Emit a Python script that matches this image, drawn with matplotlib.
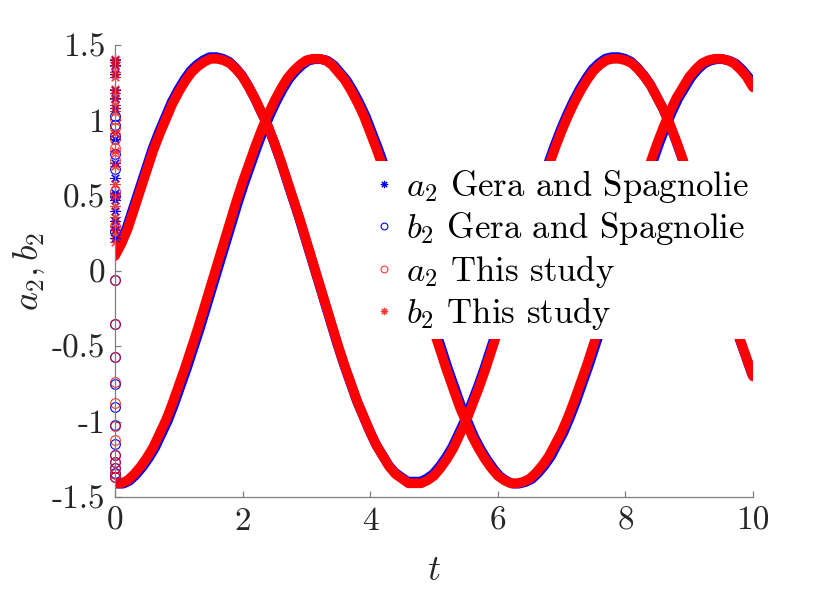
import numpy as np
import matplotlib
matplotlib.use("Agg")
import matplotlib.pyplot as plt
import matplotlib.transforms as mtransforms

plt.rcParams['font.family'] = 'serif'
plt.rcParams['font.serif'] = ['cmr10', 'DejaVu Serif']
plt.rcParams['mathtext.fontset'] = 'cm'
plt.rcParams['axes.unicode_minus'] = False

# values, t every 0.1
t = np.linspace(0, 10, 101)
a2 = [0.10, 0.18, 0.28, 0.41, 0.54, 0.67, 0.80, 0.91, 1.01, 1.11,
      1.19, 1.26, 1.32, 1.36, 1.39, 1.41, 1.41, 1.40, 1.38, 1.34,
      1.29, 1.22, 1.14, 1.05, 0.96, 0.85, 0.73, 0.60, 0.47, 0.34,
      0.20, 0.06, -0.08, -0.22, -0.36, -0.50, -0.63, -0.75, -0.87, -0.97,
      -1.07, -1.16, -1.23, -1.30, -1.35, -1.38, -1.41, -1.41, -1.41, -1.39,
      -1.36, -1.31, -1.25, -1.18, -1.09, -1.00, -0.89, -0.78, -0.66, -0.53,
      -0.40, -0.26, -0.12, 0.02, 0.16, 0.30, 0.44, 0.57, 0.70, 0.82,
      0.93, 1.03, 1.12, 1.20, 1.27, 1.33, 1.37, 1.40, 1.41, 1.41,
      1.40, 1.38, 1.34, 1.29, 1.23, 1.15, 1.07, 0.97, 0.86, 0.74,
      0.61, 0.48, 0.35, 0.21, 0.07, -0.07, -0.20, -0.33, -0.46, -0.58,
      -0.70]
b2 = [-1.41, -1.41, -1.39, -1.35, -1.30, -1.24, -1.17, -1.08, -0.99, -0.88,
      -0.76, -0.64, -0.51, -0.38, -0.24, -0.10, 0.04, 0.18, 0.32, 0.46,
      0.59, 0.71, 0.83, 0.94, 1.04, 1.13, 1.21, 1.28, 1.33, 1.37,
      1.40, 1.41, 1.41, 1.40, 1.37, 1.32, 1.27, 1.20, 1.12, 1.03,
      0.92, 0.81, 0.69, 0.57, 0.43, 0.30, 0.16, 0.02, -0.12, -0.26,
      -0.40, -0.53, -0.66, -0.78, -0.90, -1.00, -1.10, -1.18, -1.25, -1.31,
      -1.36, -1.39, -1.41, -1.41, -1.40, -1.38, -1.34, -1.29, -1.23, -1.15,
      -1.07, -0.97, -0.86, -0.74, -0.62, -0.49, -0.36, -0.22, -0.08, 0.07,
      0.21, 0.34, 0.48, 0.61, 0.73, 0.85, 0.96, 1.06, 1.15, 1.22,
      1.29, 1.34, 1.38, 1.40, 1.41, 1.41, 1.40, 1.38, 1.34, 1.29,
      1.22]

# scattered start-up values at t = 0
star_gera = [1.40, 1.37, 1.31, 1.20, 1.15, 1.08, 0.88, 0.72, 0.62, 0.52, 0.47,
             0.40, 0.33, 0.27, 0.22]
star_this = [1.41, 1.39, 1.36, 1.32, 1.29, 1.21, 1.18, 1.14, 1.10, 1.06, 0.92,
             0.80, 0.70, 0.58, 0.50, 0.43, 0.36, 0.30, 0.25, 0.19]
circ_gera = [1.03, 0.97, 0.90, 0.78, 0.68, 0.50, 0.26, -0.06, -0.35, -0.57,
             -0.75, -0.90, -1.02, -1.15, -1.22, -1.27, -1.31, -1.34, -1.37]
circ_this = [1.01, 0.95, 0.88, 0.82, 0.74, 0.53, 0.30, -0.06, -0.35, -0.57,
             -0.74, -0.88, -1.03, -1.12, -1.22, -1.27, -1.31, -1.35, -1.37]

xticks = [0, 2, 4, 6, 8, 10]
yticks = [-1.5, -1, -0.5, 0, 0.5, 1, 1.5]
yticklabels = ['-1.5', '-1', '-0.5', '0', '0.5', '1', '1.5']

fig = plt.figure(figsize=(8.33, 5.95), dpi=100)
ax = fig.add_axes([0.138, 0.165, 0.766, 0.759])

blue = '#0000ff'
red = '#ff0000'
ast = (8, 2, 0)
lw = 7

up = mtransforms.offset_copy(ax.transData, fig=fig, x=-0.6, y=1.2, units='points')
right = mtransforms.offset_copy(ax.transData, fig=fig, x=1.4, y=-0.3, units='points')

ax.plot(t, a2, color=blue, lw=lw, solid_capstyle='round', solid_joinstyle='round',
        transform=up)
ax.plot(t, b2, color=blue, lw=lw, solid_capstyle='round', solid_joinstyle='round',
        transform=right)
ax.plot(t, b2, color=red, lw=lw, solid_capstyle='round', solid_joinstyle='round')
ax.plot(t, a2, color=red, lw=lw, solid_capstyle='round', solid_joinstyle='round')

ax.plot(np.zeros(len(star_gera)), star_gera, ls='none', marker=ast, ms=7.5, mew=0.8,
        color=blue, clip_on=False, label=r'$a_2$ Gera and Spagnolie')
ax.plot(np.zeros(len(circ_gera)), circ_gera, ls='none', marker='o', ms=7, mew=0.8,
        mfc='none', mec=blue, clip_on=False, label=r'$b_2$ Gera and Spagnolie')
ax.plot(np.zeros(len(circ_this)), circ_this, ls='none', marker='o', ms=7, mew=0.8,
        mfc='none', mec=red, alpha=0.8, clip_on=False, label=r'$a_2$ This study')
ax.plot(np.zeros(len(star_this)), star_this, ls='none', marker=ast, ms=7.5, mew=0.8,
        color=red, alpha=0.8, clip_on=False, label=r'$b_2$ This study')

ax.set_xlim(0, 10)
ax.set_ylim(-1.5, 1.5)
ax.set_xticks(xticks)
ax.set_xticklabels([str(v) for v in xticks])
ax.set_yticks(yticks)
ax.set_yticklabels(yticklabels)

for s in ['top', 'right']:
    ax.spines[s].set_visible(False)
for s in ['left', 'bottom']:
    ax.spines[s].set_color('#7f7f7f')
    ax.spines[s].set_linewidth(0.9)
ax.tick_params(direction='in', length=4.5, width=0.9, color='#7f7f7f',
               labelcolor='#262626', labelsize=24, pad=7)

ax.set_xlabel(r'$t$', fontsize=26, color='#262626', labelpad=14)
ax.set_ylabel(r'$a_2, b_2$', fontsize=26, color='#262626', labelpad=3)

leg = ax.legend(loc='center left', bbox_to_anchor=(368 / 833, 1 - 250 / 595),
                bbox_transform=fig.transFigure, fontsize=25, frameon=True,
                framealpha=1, edgecolor='none', facecolor='white',
                handlelength=0.5, handletextpad=0.4, labelspacing=0.16,
                borderpad=0.2, borderaxespad=0, markerscale=0.7)
for txt in leg.get_texts():
    txt.set_color('#000000')

fig.savefig('out.png', dpi=100)
